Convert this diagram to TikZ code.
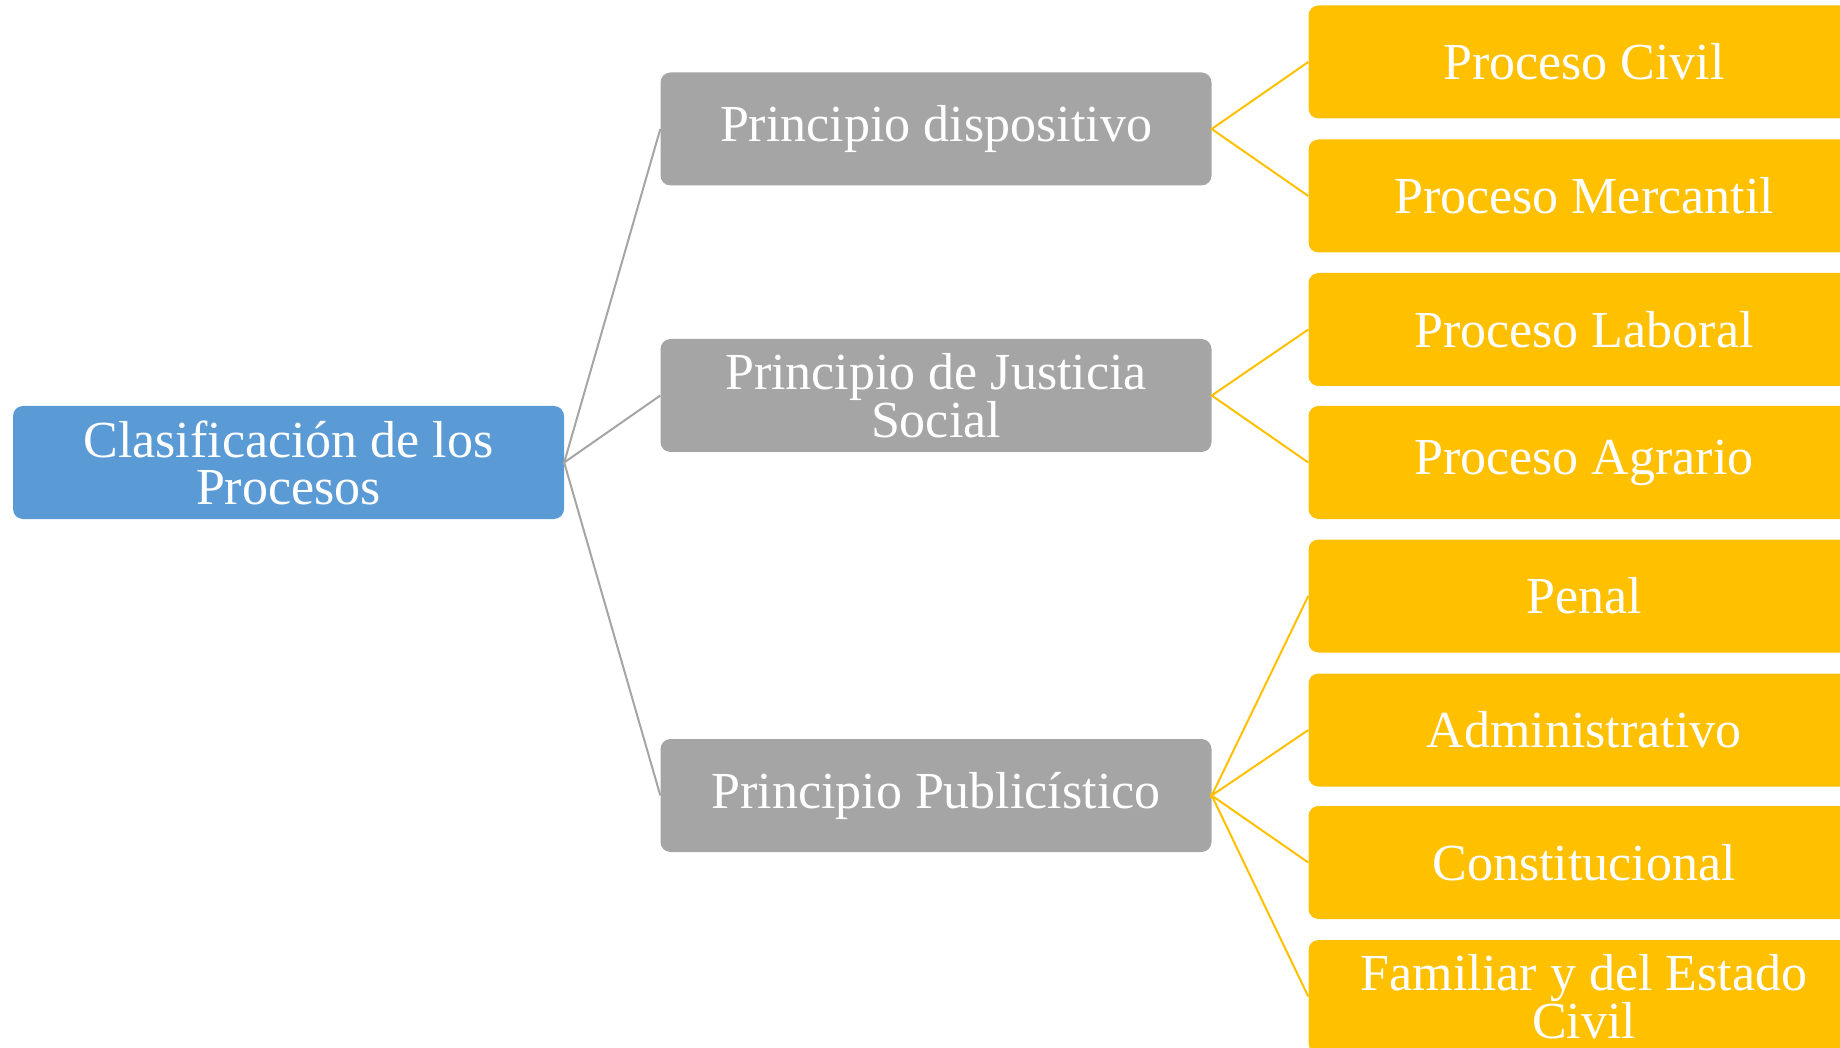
\documentclass[tikz,border=0pt]{standalone}
\usepackage{fontspec}
\setmainfont{Liberation Serif}
\definecolor{rootblue}{HTML}{5B9BD5}
\definecolor{princgray}{HTML}{A5A5A5}
\definecolor{procorange}{HTML}{FFC000}
\tikzset{
  box/.style={rounded corners=10pt, minimum width=551pt, minimum height=113pt,
    inner sep=0pt, align=center, text=white, font=\fontsize{52}{47}\selectfont},
  rootbox/.style={box, fill=rootblue},
  princbox/.style={box, fill=princgray},
  procbox/.style={box, fill=procorange},
  princline/.style={draw=princgray, line width=2pt},
  procline/.style={draw=procorange, line width=2pt}
}
\begin{document}
\begin{tikzpicture}[x=1pt,y=-1pt]
        \useasboundingbox (0,0) rectangle (1840,1048);
        \clip (0,0) rectangle (1840,1048);
        % root
        \node[rootbox] (root) at (288.5,462.5) {Clasificación de los\\Procesos};
        % principios
        \node[princbox] (disp) at (936,129) {Principio dispositivo};
        \node[princbox] (just) at (936,395.5) {Principio de Justicia\\Social};
        \node[princbox] (publ) at (936,795.5) {Principio Publicístico};
        % procesos
        \node[procbox] (civil) at (1584,62) {Proceso Civil};
        \node[procbox] (merc) at (1584,196) {Proceso Mercantil};
        \node[procbox] (labo) at (1584,329.5) {Proceso Laboral};
        \node[procbox] (agra) at (1584,462.5) {Proceso Agrario};
        \node[procbox] (pena) at (1584,596) {Penal};
        \node[procbox] (admi) at (1584,730) {Administrativo};
        \node[procbox] (cons) at (1584,862.5) {Constitucional};
        \node[procbox] (fami) at (1584,996.5) {Familiar y del Estado\\Civil};
        % connectors
        \draw[princline] (disp.west) -- (root.east) -- (just.west);
        \draw[princline] (root.east) -- (publ.west);
        \draw[procline] (civil.west) -- (disp.east) -- (merc.west);
        \draw[procline] (labo.west) -- (just.east) -- (agra.west);
        \draw[procline] (pena.west) -- (publ.east) -- (admi.west);
        \draw[procline] (cons.west) -- (publ.east) -- (fami.west);
      \end{tikzpicture}
\end{document}
